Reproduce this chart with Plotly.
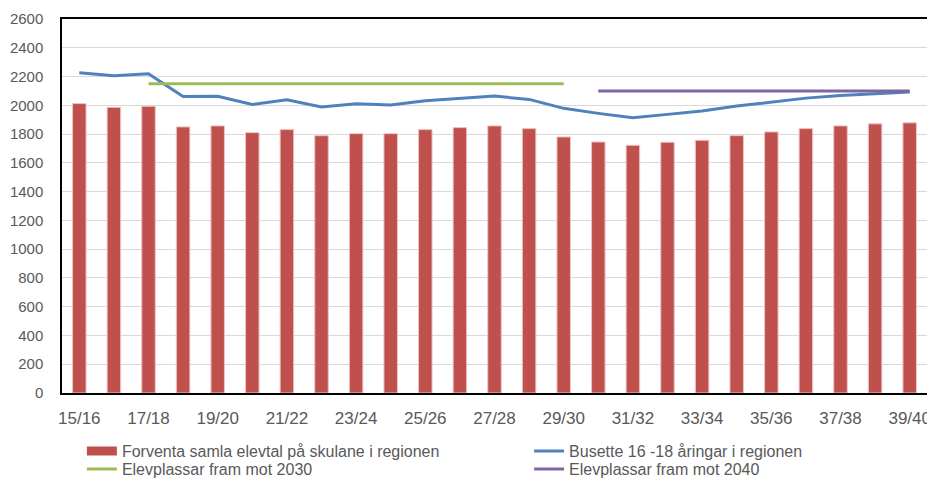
import plotly.graph_objects as go

# school years
years = [
    "15/16", "16/17", "17/18", "18/19", "19/20", "20/21", "21/22", "22/23",
    "23/24", "24/25", "25/26", "26/27", "27/28", "28/29", "29/30", "30/31",
    "31/32", "32/33", "33/34", "34/35", "35/36", "36/37", "37/38", "38/39",
    "39/40",
]

# expected pupils at the schools
pupils = [
    2012, 1986, 1993, 1850, 1857, 1810, 1831, 1789, 1803, 1803, 1831, 1845,
    1857, 1838, 1780, 1745, 1722, 1743, 1757, 1789, 1815, 1838, 1857, 1871,
    1878,
]

# residents aged 16-18
residents = [
    2227, 2205, 2219, 2062, 2063, 2006, 2039, 1988, 2011, 2002, 2032, 2050,
    2064, 2041, 1979, 1944, 1913, 1937, 1960, 1995, 2024, 2050, 2069, 2080,
    2092,
]

# capacity toward 2030 / 2040
places_2030 = [None, None] + [2150] * 13 + [None] * 10
places_2040 = [None] * 15 + [2100] * 10

y_ticks = list(range(0, 2601, 200))

FONT = "Liberation Sans, Arial, sans-serif"
TXT = "#595959"
BAR_NAME = "Forventa samla elevtal på skulane i regionen"

fig = go.Figure()

fig.add_trace(go.Bar(
    x=years, y=pupils,
    name=BAR_NAME,
    marker=dict(color="#C0504D", line=dict(color="#EBC4C3", width=1)),
    showlegend=False,
))
# legend key for the bars: a wide flat block like the original
fig.add_trace(go.Scatter(
    x=[None], y=[None], mode="lines",
    name=BAR_NAME,
    line=dict(color="#C0504D", width=9),
    legend="legend",
))
fig.add_trace(go.Scatter(
    x=years, y=residents, mode="lines",
    name="Busette 16 -18 åringar i regionen",
    line=dict(color="#4F81BD", width=3),
    legend="legend2",
))
fig.add_trace(go.Scatter(
    x=years, y=places_2030, mode="lines",
    name="Elevplassar fram mot 2030",
    line=dict(color="#9BBB59", width=3),
    legend="legend3",
))
fig.add_trace(go.Scatter(
    x=years, y=places_2040, mode="lines",
    name="Elevplassar fram mot 2040",
    line=dict(color="#8064A2", width=3),
    legend="legend4",
))

leg_common = dict(
    orientation="v",
    yanchor="top",
    xanchor="left",
    font=dict(family=FONT, size=16, color=TXT),
    bgcolor="rgba(0,0,0,0)",
)

# page body has an 8px margin, so the figure is 8px smaller than the window
fig.update_layout(
    width=927, height=471,
    margin=dict(l=54, r=8, t=11, b=86, autoexpand=False),
    paper_bgcolor="white",
    plot_bgcolor="white",
    font=dict(family=FONT, size=15, color=TXT),
    bargap=0.61,
    showlegend=True,
    legend=dict(x=0.023, y=-0.11, **leg_common),
    legend2=dict(x=0.54, y=-0.11, **leg_common),
    legend3=dict(x=0.023, y=-0.158, **leg_common),
    legend4=dict(x=0.54, y=-0.158, **leg_common),
    xaxis=dict(
        type="category",
        tickmode="array",
        tickvals=years[::2],
        ticktext=years[::2],
        showline=True, linecolor="black", linewidth=1.5, mirror=True,
        showgrid=False, ticks="",
        ticklabelstandoff=9,
        tickfont=dict(size=17, color=TXT),
    ),
    yaxis=dict(
        range=[0, 2600],
        tickvals=y_ticks,
        showline=True, linecolor="black", linewidth=1.5, mirror=True,
        gridcolor="#D9D9D9", gridwidth=1,
        zeroline=False, ticks="",
        ticklabelstandoff=14,
        tickfont=dict(size=15, color=TXT),
    ),
)

fig.write_html("out.html")
